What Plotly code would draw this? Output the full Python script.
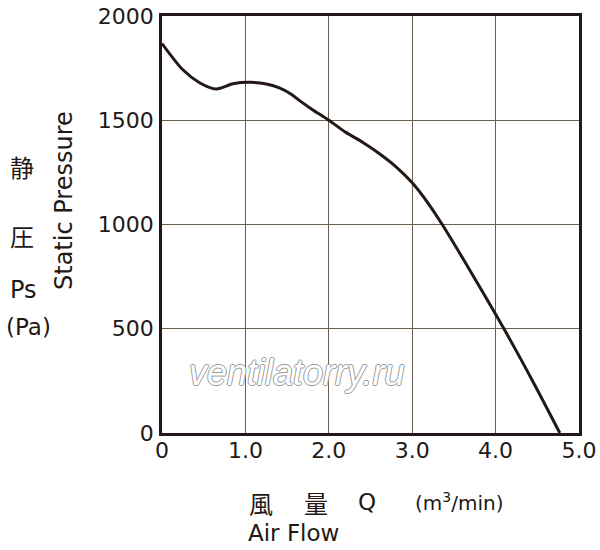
import plotly.graph_objects as go

# fan curve: static pressure vs air flow
air_flow = [0, 0.25, 0.45, 0.65, 0.85, 1.05, 1.25, 1.4, 1.55, 1.65, 1.8,
            2.0, 2.2, 2.4, 2.6, 2.8, 3.0, 3.2, 3.36, 3.7, 4.1, 4.45, 4.77]
static_pressure = [1868, 1742, 1680, 1650, 1675, 1682, 1674, 1656, 1625, 1594,
                   1552, 1500, 1443, 1396, 1342, 1279, 1200, 1097, 1000, 775,
                   500, 245, 0]

x_ticks = [0, 1, 2, 3, 4, 5]
x_tick_labels = ["0", "1.0", "2.0", "3.0", "4.0", "5.0"]
y_ticks = [0, 500, 1000, 1500, 2000]
y_tick_labels = ["0", "500", "1000", "1500", "2000"]

INK = "#231815"
GRID = "#6b6050"
FONT = "DejaVu Sans, sans-serif"
CJK = "Noto Sans CJK JP, sans-serif"

W, H = 600, 550
L, R, T, B = 162, 579, 16, 433   # plot area in pixels


def px(xp):
    return (xp - L) / (R - L)


def py(yp):
    return (B - yp) / (B - T)


fig = go.Figure()
fig.add_trace(go.Scatter(
    x=air_flow, y=static_pressure, mode="lines",
    line=dict(color=INK, width=3, shape="spline", smoothing=0.8),
    hoverinfo="skip", showlegend=False,
))

axis_common = dict(
    showgrid=True, gridcolor=GRID, gridwidth=1.3,
    showline=True, linecolor=INK, linewidth=2.5, mirror=True,
    zeroline=False, ticks="", automargin=False, ticklabeloverflow="allow",
    tickfont=dict(family=FONT, size=22, color=INK),
)

fig.update_xaxes(range=[0, 5], tickvals=x_ticks, ticktext=x_tick_labels,
                 ticklabelstandoff=-4, **axis_common)
fig.update_yaxes(range=[0, 2000], tickvals=y_ticks, ticktext=y_tick_labels,
                 ticklabelstandoff=1, **axis_common)

labels = [
    # text, x px, y px, font, size, anchor
    ("静", 22, 166, CJK, 24, "center"),
    ("圧", 22, 235, CJK, 24, "center"),
    ("Ps", 23, 290, FONT, 24, "center"),
    ("(Pa)", 28, 327, FONT, 23, "center"),
    ("風", 247, 502, CJK, 24, "left"),
    ("量", 302, 502, CJK, 24, "left"),
    ("Q", 356, 502, FONT, 23, "left"),
    ("(m<sup>3</sup>/min)", 413, 502, FONT, 20, "left"),
    ("Air Flow", 246, 533, FONT, 23, "left"),
]
for text, xp, yp, fam, size, anchor in labels:
    fig.add_annotation(
        text=text, xref="paper", yref="paper", x=px(xp), y=py(yp),
        xanchor=anchor, yanchor="middle", showarrow=False,
        font=dict(family=fam, size=size, color=INK),
    )

fig.add_annotation(
    text="Static Pressure", xref="paper", yref="paper",
    x=px(64), y=py(201), textangle=-90, showarrow=False,
    xanchor="center", yanchor="middle",
    font=dict(family=FONT, size=24, color=INK),
)

# watermark
fig.add_annotation(
    text="<i>ventilatorry.ru</i>", xref="paper", yref="paper",
    x=px(296), y=py(372), showarrow=False,
    xanchor="center", yanchor="middle",
    font=dict(family="Liberation Sans, sans-serif", size=36, color="white",
              shadow="1px 0 0 #9a9a9a, -1px 0 0 #9a9a9a, 0 1px 0 #9a9a9a, 0 -1px 0 #9a9a9a"),
)

fig.update_layout(
    width=W, height=H,
    margin=dict(l=L, r=W - R, t=T, b=H - B),
    paper_bgcolor="white", plot_bgcolor="white",
)

# drop the default body margin so the figure sits at the window corner
fig.write_html(
    "out.html",
    config={"displayModeBar": False},
    post_script="document.body.style.margin='0';"
                "document.body.style.overflow='hidden';",
)
